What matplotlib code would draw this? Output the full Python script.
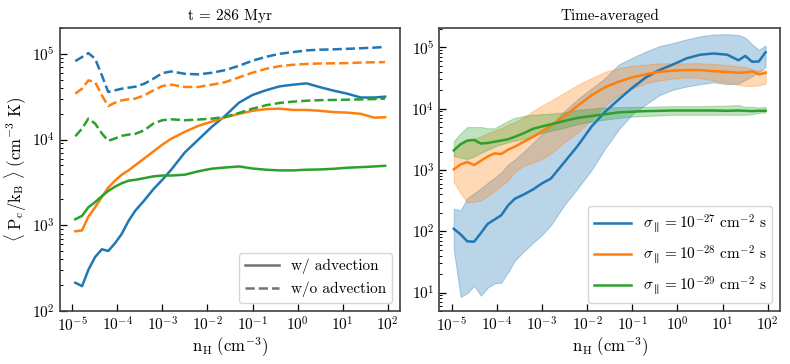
import numpy as np
import matplotlib
matplotlib.use('Agg')
import matplotlib.pyplot as plt
from matplotlib.lines import Line2D
from matplotlib.ticker import LogLocator, NullLocator

plt.rcParams['font.family'] = 'serif'
plt.rcParams['font.serif'] = ['cmr10']
plt.rcParams['mathtext.fontset'] = 'cm'
plt.rcParams['axes.formatter.use_mathtext'] = True

# ---- left panel: snapshot t = 286 Myr (log10 values) ----
logn_left = [-4.93, -4.78, -4.64, -4.49, -4.34, -4.2, -4.05, -3.9, -3.75, -3.6,
             -3.4, -3.2, -3.0, -2.8, -2.5, -2.2, -1.9, -1.6, -1.3, -1.0,
             -0.7, -0.4, -0.1, 0.2, 0.5, 0.8, 1.1, 1.4, 1.7, 1.94]

# with advection (solid)
adv_27 = [2.33, 2.29, 2.48, 2.63, 2.72, 2.70, 2.79, 2.90, 3.05, 3.17,
          3.29, 3.42, 3.53, 3.65, 3.85, 4.00, 4.15, 4.28, 4.43, 4.52,
          4.575, 4.62, 4.64, 4.655, 4.61, 4.57, 4.535, 4.49, 4.49, 4.50]
adv_28 = [2.93, 2.94, 3.10, 3.21, 3.33, 3.44, 3.52, 3.59, 3.64, 3.70,
          3.78, 3.86, 3.94, 4.01, 4.09, 4.16, 4.21, 4.26, 4.30, 4.335,
          4.355, 4.36, 4.345, 4.345, 4.335, 4.32, 4.314, 4.30, 4.255, 4.26]
adv_29 = [3.07, 3.11, 3.21, 3.27, 3.34, 3.40, 3.45, 3.49, 3.52, 3.53,
          3.55, 3.57, 3.58, 3.58, 3.59, 3.63, 3.66, 3.674, 3.686, 3.662,
          3.648, 3.64, 3.64, 3.648, 3.651, 3.659, 3.671, 3.678, 3.686, 3.694]

# without advection (dashed)
noadv_27 = [4.915, 4.962, 5.008, 4.942, 4.748, 4.555, 4.574, 4.593, 4.605, 4.616,
            4.651, 4.709, 4.775, 4.794, 4.767, 4.76, 4.779, 4.81, 4.86, 4.92,
            4.965, 5.0, 5.02, 5.04, 5.048, 5.052, 5.058, 5.065, 5.072, 5.08]
noadv_28 = [4.535, 4.593, 4.69, 4.67, 4.515, 4.39, 4.43, 4.457, 4.469, 4.477,
            4.515, 4.573, 4.624, 4.64, 4.613, 4.613, 4.64, 4.67, 4.725, 4.78,
            4.825, 4.856, 4.872, 4.882, 4.887, 4.889, 4.891, 4.898, 4.901, 4.903]
noadv_29 = [4.038, 4.128, 4.244, 4.186, 4.07, 3.985, 4.012, 4.043, 4.058, 4.066,
            4.108, 4.186, 4.225, 4.236, 4.225, 4.233, 4.244, 4.264, 4.31, 4.36,
            4.40, 4.427, 4.442, 4.453, 4.459, 4.462, 4.465, 4.468, 4.472, 4.477]

# ---- right panel: time-averaged (log10 values) ----
logn_right = [-4.95, -4.8, -4.65, -4.5, -4.35, -4.2, -4.05, -3.9, -3.75, -3.6,
              -3.4, -3.2, -3.0, -2.8, -2.5, -2.2, -1.9, -1.6, -1.3, -1.0,
              -0.7, -0.4, -0.1, 0.2, 0.5, 0.8, 1.1, 1.35, 1.5, 1.65, 1.8, 1.95]

avg_27 = [2.04, 1.95, 1.835, 1.83, 1.97, 2.12, 2.19, 2.26, 2.42, 2.53,
          2.60, 2.68, 2.78, 2.86, 3.13, 3.40, 3.71, 3.95, 4.15, 4.34,
          4.51, 4.63, 4.72, 4.82, 4.88, 4.90, 4.88, 4.79, 4.86, 4.765, 4.77, 4.92]
lo_27 = [1.70, 0.93, 0.99, 1.11, 0.95, 1.08, 1.15, 1.16, 1.33, 1.52,
         1.67, 1.81, 1.94, 2.10, 2.43, 2.71, 3.00, 3.35, 3.66, 3.91,
         4.07, 4.22, 4.31, 4.36, 4.40, 4.43, 4.40, 4.41, 4.47, 4.53, 4.60, 4.68]
hi_27 = [2.37, 2.34, 2.54, 2.62, 2.70, 2.79, 2.87, 2.96, 3.09, 3.17,
         3.30, 3.44, 3.59, 3.73, 3.96, 4.16, 4.33, 4.50, 4.72, 4.83,
         4.93, 5.02, 5.07, 5.13, 5.18, 5.21, 5.215, 5.20, 5.16, 5.05, 4.96, 5.03]

avg_28 = [3.01, 3.09, 3.13, 3.08, 3.15, 3.22, 3.27, 3.26, 3.33, 3.38,
          3.46, 3.54, 3.63, 3.72, 3.88, 4.05, 4.22, 4.35, 4.44, 4.51,
          4.56, 4.60, 4.62, 4.63, 4.63, 4.61, 4.60, 4.585, 4.59, 4.61, 4.56, 4.585]
lo_28 = [2.81, 2.62, 2.47, 2.48, 2.50, 2.58, 2.65, 2.74, 2.83, 2.97,
         3.07, 3.12, 3.18, 3.27, 3.45, 3.62, 3.82, 4.05, 4.22, 4.33,
         4.41, 4.46, 4.49, 4.51, 4.50, 4.46, 4.42, 4.39, 4.37, 4.37, 4.38, 4.41]
hi_28 = [3.36, 3.42, 3.47, 3.51, 3.55, 3.60, 3.64, 3.68, 3.74, 3.78,
         3.86, 3.96, 4.05, 4.13, 4.26, 4.39, 4.50, 4.60, 4.66, 4.70,
         4.72, 4.74, 4.74, 4.74, 4.74, 4.73, 4.71, 4.69, 4.68, 4.64, 4.62, 4.63]

avg_29 = [3.32, 3.42, 3.48, 3.49, 3.43, 3.44, 3.46, 3.48, 3.50, 3.54,
          3.60, 3.67, 3.71, 3.745, 3.80, 3.85, 3.88, 3.91, 3.94, 3.95,
          3.96, 3.965, 3.97, 3.97, 3.97, 3.97, 3.965, 3.97, 3.965, 3.96, 3.965, 3.965]
lo_29 = [3.23, 3.20, 3.18, 3.22, 3.28, 3.33, 3.38, 3.42, 3.45, 3.48,
         3.51, 3.55, 3.60, 3.64, 3.69, 3.75, 3.79, 3.82, 3.85, 3.87,
         3.88, 3.89, 3.90, 3.90, 3.90, 3.90, 3.90, 3.90, 3.90, 3.91, 3.93, 3.94]
hi_29 = [3.47, 3.60, 3.70, 3.70, 3.70, 3.68, 3.68, 3.74, 3.80, 3.85,
         3.88, 3.90, 3.91, 3.92, 3.94, 3.98, 4.00, 4.02, 4.025, 4.03,
         4.03, 4.035, 4.04, 4.04, 4.04, 4.045, 4.05, 4.06, 4.03, 4.03, 4.02, 4.03]

colors = ['#1f77b4', '#ff7f0e', '#2ca02c']
sigma_labels = [r'$\sigma_{\parallel} = 10^{-27}\ \mathrm{cm^{-2}\ s}$',
                r'$\sigma_{\parallel} = 10^{-28}\ \mathrm{cm^{-2}\ s}$',
                r'$\sigma_{\parallel} = 10^{-29}\ \mathrm{cm^{-2}\ s}$']

fig = plt.figure(figsize=(7.9, 3.64), dpi=100)
ax1 = fig.add_axes([0.0759, 0.1456, 0.4304, 0.7775])
ax2 = fig.add_axes([0.5561, 0.1456, 0.4313, 0.7775])

nl = 10 ** np.array(logn_left)
for c, y in zip(colors, [adv_27, adv_28, adv_29]):
    ax1.plot(nl, 10 ** np.array(y), color=c, lw=1.8)
for c, y in zip(colors, [noadv_27, noadv_28, noadv_29]):
    ax1.plot(nl, 10 ** np.array(y), color=c, lw=1.8, ls='--')

nr = 10 ** np.array(logn_right)
for c, lab, m, lo, hi in zip(colors, sigma_labels,
                             [avg_27, avg_28, avg_29],
                             [lo_27, lo_28, lo_29],
                             [hi_27, hi_28, hi_29]):
    ax2.fill_between(nr, 10 ** np.array(lo), 10 ** np.array(hi),
                     color=c, alpha=0.3, lw=0.8)
    ax2.plot(nr, 10 ** np.array(m), color=c, lw=1.8, label=lab)

for ax in (ax1, ax2):
    ax.set_xscale('log')
    ax.set_yscale('log')
    ax.set_xlim(10 ** -5.27, 10 ** 2.27)
    ax.xaxis.set_major_locator(LogLocator(base=10, numticks=20))
    ax.xaxis.set_minor_locator(NullLocator())
    ax.tick_params(which='both', direction='in', labelsize=11)
    ax.tick_params(which='major', length=5, width=0.9)
    ax.tick_params(which='minor', length=2.5, width=0.7)
    for s in ax.spines.values():
        s.set_linewidth(1.2)
        s.set_color('0.25')
    ax.set_xlabel(r'$\mathrm{n_H\ (cm^{-3})}$', fontsize=12, labelpad=1)

ax1.set_ylim(1e2, 2e5)
ax2.set_ylim(5, 2.07e5)
ax1.set_ylabel(r'$\langle\ \mathrm{P_c/k_B}\ \rangle\ \mathrm{(cm^{-3}\ K)}$',
               fontsize=12, labelpad=2)
ax1.set_title('t = 286 Myr', fontsize=11)
ax2.set_title('Time-averaged', fontsize=11)

handles = [Line2D([], [], color='0.45', lw=1.8),
           Line2D([], [], color='0.45', lw=1.8, ls='--')]
ax1.legend(handles, ['w/ advection', 'w/o advection'], loc='lower right',
           fontsize=11, handlelength=2.2)
ax2.legend(loc='lower right', fontsize=11, handlelength=2.4, labelspacing=0.55)

fig.savefig('out.png', dpi=100)
